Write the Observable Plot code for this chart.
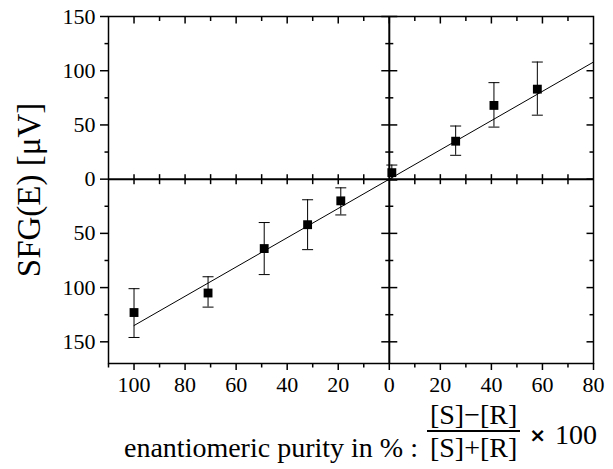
<!DOCTYPE html>
<html><head><meta charset="utf-8">
<script src="https://cdn.jsdelivr.net/npm/d3@7"></script>
<script src="https://cdn.jsdelivr.net/npm/@observablehq/plot@0.6"></script>
<style>
body{margin:0;background:#fff;}
#wrap{position:relative;width:613px;height:469px;overflow:hidden;font-family:"Liberation Serif","Times New Roman",serif;color:#000;}
#chart svg{display:block;}
#cap{position:absolute;left:124px;top:400px;display:flex;align-items:center;font-size:28px;white-space:nowrap;}
#cap .frac{display:inline-flex;flex-direction:column;align-items:center;margin:0 6px 0 9px;}
#cap .num{padding:0 3px;line-height:30px;}
#cap .den{padding:0 3px;line-height:32px;border-top:2px solid #000;}
#cap .times{font-family:"DejaVu Sans",sans-serif;font-size:20px;font-weight:bold;margin:6px 9px 0 3px;}
#cap .lbl{margin-top:32px;}
#cap .hundred{margin-top:6px;}
</style></head><body>
<div id="wrap"><div id="chart"></div>
<div id="cap"><span class="lbl">enantiomeric purity in % :</span><span class="frac"><span class="num">[S]−[R]</span><span class="den">[S]+[R]</span></span><span class="times">×</span><span class="hundred">100</span></div>
</div>
<script>
// data (negative = R-excess side, plotted as absolute labels)
const purity  = [-100, -71, -49, -32, -19, 1, 26, 41, 58];
const signal  = [-123, -105, -64, -42, -20, 6, 35, 68, 83];
const errLow  = [-146, -118, -88, -65, -33, -1, 22, 48, 59];
const errHigh = [-101, -90, -40, -19, -8, 13, 49, 89, 108];
const fitX = [-100, 80];
const fitY = [-135, 108];
const xMajor = [-100, -80, -60, -40, -20, 0, 20, 40, 60, 80];
const xMinor = [-110, -90, -70, -50, -30, -10, 10, 30, 50, 70];
const yMajor = [-150, -100, -50, 0, 50, 100, 150];
const yMinor = [-125, -75, -25, 25, 75, 125];
const yLabel = "SFG(E) [μV]";

const rows = purity.map((p, i) => ({x: p, y: signal[i], lo: errLow[i], hi: errHigh[i]}));
const fit = fitX.map((x, i) => ({x, y: fitY[i]}));

const mk = f => ({draw(ctx, size) { const r = Math.sqrt(size / Math.PI); f(ctx, r); }});
const sDown = mk((c, r) => { c.moveTo(0, 0); c.lineTo(0, r); });
const sLeft = mk((c, r) => { c.moveTo(0, 0); c.lineTo(-r, 0); });
const sV = mk((c, r) => { c.moveTo(0, -r); c.lineTo(0, r); });
const sH = mk((c, r) => { c.moveTo(-r, 0); c.lineTo(r, 0); });

const xTopMajor = xMajor.filter(v => v < 80);
const xTopMinor = xMinor.filter(v => v > -110);
const yRightMajor = yMajor.filter(v => v < 150);
const yZeroMajor = yMajor.filter(v => v !== 0);
const xZero = xMajor.concat(xMinor).filter(v => v !== 0 && v > -110 && v < 80);

const tick = {stroke: "black", strokeWidth: 1.5, fill: "none"};

const chart = Plot.plot({
  width: 613, height: 410,
  marginLeft: 108, marginRight: 20, marginTop: 16, marginBottom: 47,
  x: {domain: [-110, 80]},
  y: {domain: [-170, 150]},
  style: {fontFamily: "'Liberation Serif','Times New Roman',serif", color: "black", background: "white"},
  marks: [
    Plot.ruleY([0], {stroke: "black", strokeWidth: 2}),
    Plot.ruleX([0], {stroke: "black", strokeWidth: 2}),
    Plot.frame({stroke: "black", strokeWidth: 1.5}),
    // inward ticks on top and right frame
    Plot.dot(xTopMajor, {x: d => d, frameAnchor: "top", symbol: sDown, r: 7, ...tick}),
    Plot.dot(xTopMinor, {x: d => d, frameAnchor: "top", symbol: sDown, r: 4.5, ...tick}),
    Plot.dot(yRightMajor, {y: d => d, frameAnchor: "right", symbol: sLeft, r: 7, ...tick}),
    Plot.dot(yMinor, {y: d => d, frameAnchor: "right", symbol: sLeft, r: 4, ...tick}),
    // outward minor ticks on left and bottom
    Plot.dot(yMinor, {y: d => d, frameAnchor: "left", symbol: sLeft, r: 4, ...tick}),
    Plot.dot(xMinor, {x: d => d, frameAnchor: "bottom", symbol: sDown, r: 4, ...tick}),
    // crossing ticks on the zero lines
    Plot.dot(xZero, {x: d => d, y: () => 0, symbol: sV, r: 5, ...tick}),
    Plot.dot(yZeroMajor, {x: () => 0, y: d => d, symbol: sH, r: 8, ...tick}),
    Plot.dot(yMinor, {x: () => 0, y: d => d, symbol: sH, r: 4, ...tick}),
    // axes with labels
    Plot.axisX({ticks: xMajor, anchor: "bottom", tickSize: 7, tickPadding: 6, strokeWidth: 1.5,
      tickFormat: d => Math.abs(d), fontSize: 22, label: null}),
    Plot.axisY({ticks: yMajor, anchor: "left", tickSize: 8, tickPadding: 5, strokeWidth: 1.5,
      tickFormat: d => Math.abs(d), fontSize: 22, label: null}),
    Plot.text([yLabel], {text: d => d, frameAnchor: "left", dx: -79, rotate: -90,
      fontSize: 33, textAnchor: "middle", fill: "black"}),
    // fit line
    Plot.line(fit, {x: "x", y: "y", stroke: "black", strokeWidth: 1}),
    // error bars
    Plot.ruleX(rows, {x: "x", y1: "lo", y2: "hi", stroke: "black", strokeWidth: 1}),
    Plot.dot(rows, {x: "x", y: "lo", symbol: sH, r: 5.5, stroke: "black", strokeWidth: 1}),
    Plot.dot(rows, {x: "x", y: "hi", symbol: sH, r: 5.5, stroke: "black", strokeWidth: 1}),
    // data points
    Plot.dot(rows, {x: "x", y: "y", symbol: "square", r: 5, fill: "black", stroke: "none"})
  ]
});
document.getElementById("chart").appendChild(chart);
</script>
</body></html>
